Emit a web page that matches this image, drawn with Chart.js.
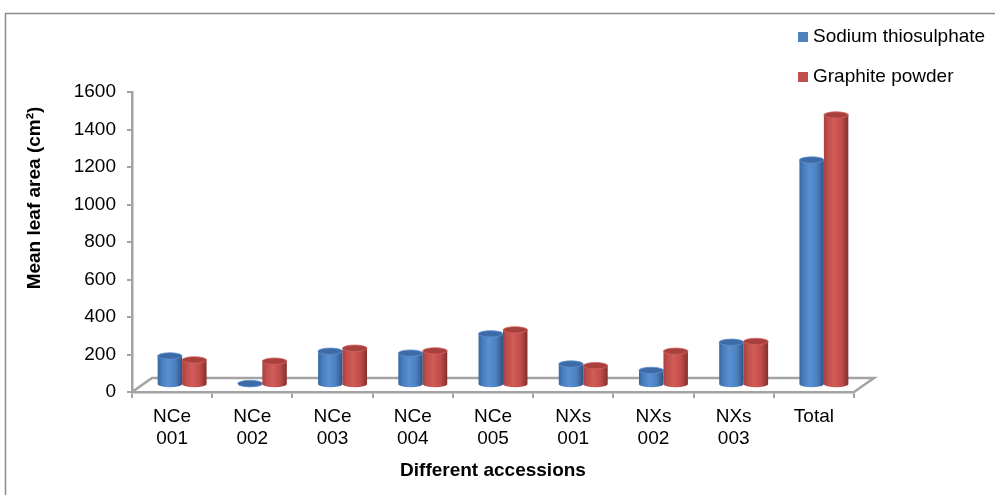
<!DOCTYPE html>
<html>
<head>
<meta charset="utf-8">
<script src="https://cdn.jsdelivr.net/npm/chart.js@4.4.0/dist/chart.umd.min.js"></script>
<style>
  body { margin: 0; background: #fff; }
  #wrap { width: 995px; height: 495px; }
</style>
</head>
<body>
<div id="wrap"><canvas id="leaf-chart" width="995" height="495"></canvas></div>
<script>
const categories = [["NCe", "001"], ["NCe", "002"], ["NCe", "003"], ["NCe", "004"], ["NCe", "005"],
  ["NXs", "001"], ["NXs", "002"], ["NXs", "003"], "Total"];
const sodium = [155, 8, 180, 170, 273, 112, 78, 228, 1200];
const graphite = [134, 127, 196, 182, 294, 103, 180, 232, 1440];
const yTicks = [0, 200, 400, 600, 800, 1000, 1200, 1400, 1600];

const FONT = "'Liberation Sans', Arial, sans-serif";
const DEPTH_X = 20, DEPTH_Y = -14; // 3d floor offset

// body gradient stops for the cylinders
const shades = [
  { stops: ["#3a679f", "#4a7dbd", "#5990d1", "#4d80c0", "#2c5485"], top: "#3d6ba7", rim: "#5d8fcd" },
  { stops: ["#a7423f", "#c24f4c", "#d15c59", "#bf4d4a", "#862e2c"], top: "#a8403d", rim: "#d06360" }
];

const floor3d = {
  id: "floor3d",
  beforeDraw(chart) {
    const ctx = chart.ctx;
    ctx.save();
    ctx.strokeStyle = "#8c8c8c";
    ctx.lineWidth = 1.5;
    ctx.strokeRect(5.5, 13.5, 1100, 600);
    ctx.restore();
  },
  beforeDatasetsDraw(chart) {
    const { ctx, chartArea: a } = chart;
    ctx.save();
    ctx.strokeStyle = "#a3a3a3";
    ctx.lineWidth = 2.5;
    ctx.beginPath();
    ctx.moveTo(a.left, a.bottom);
    ctx.lineTo(a.left + DEPTH_X, a.bottom + DEPTH_Y);
    ctx.lineTo(a.right + DEPTH_X, a.bottom + DEPTH_Y);
    ctx.lineTo(a.right, a.bottom);
    ctx.stroke();
    ctx.restore();
  },
  beforeDatasetDraw() {
    return false; // cylinders are drawn below instead
  },
  afterDatasetsDraw(chart) {
    const ctx = chart.ctx;
    const sx = DEPTH_X / 2, sy = DEPTH_Y / 2;
    const n = chart.data.labels.length;
    for (let i = 0; i < n; i++) {
      chart.data.datasets.forEach((ds, d) => {
        const bar = chart.getDatasetMeta(d).data[i];
        const { x, y, base, width } = bar.getProps(["x", "y", "base", "width"], true);
        const cx = x + sx, top = y + sy, bot = base + sy;
        const rx = width / 2, ry = width * 0.13;
        const sh = shades[d];
        const g = ctx.createLinearGradient(cx - rx, 0, cx + rx, 0);
        [0, 0.18, 0.42, 0.72, 1].forEach((p, k) => g.addColorStop(p, sh.stops[k]));
        ctx.save();
        ctx.fillStyle = g;
        ctx.beginPath();
        ctx.moveTo(cx - rx, top);
        ctx.lineTo(cx - rx, bot);
        ctx.ellipse(cx, bot, rx, ry, 0, Math.PI, 0, true);
        ctx.lineTo(cx + rx, top);
        ctx.closePath();
        ctx.fill();
        ctx.beginPath();
        ctx.ellipse(cx, top, rx, ry, 0, 0, Math.PI * 2);
        ctx.fillStyle = sh.top;
        ctx.fill();
        ctx.strokeStyle = sh.rim;
        ctx.lineWidth = 0.8;
        ctx.stroke();
        ctx.restore();
      });
    }
  },
  afterDraw(chart) {
    const ctx = chart.ctx;
    ctx.save();
    // legend
    ctx.font = "19px " + FONT;
    ctx.textBaseline = "middle";
    ctx.textAlign = "left";
    chart.data.datasets.forEach((ds, d) => {
      const yy = 37 + d * 40;
      ctx.fillStyle = ds.backgroundColor;
      ctx.fillRect(798, yy - 5, 10, 10);
      ctx.fillStyle = "#000";
      ctx.fillText(ds.label, 813, yy);
    });
    // y axis title
    ctx.translate(35, 198);
    ctx.rotate(-Math.PI / 2);
    ctx.font = "bold 19px " + FONT;
    ctx.textAlign = "center";
    ctx.fillText("Mean leaf area (cm\u00B2)", 0, 0);
    ctx.restore();
  }
};

new Chart(document.getElementById("leaf-chart"), {
  type: "bar",
  data: {
    labels: categories,
    datasets: [
      { label: "Sodium thiosulphate", data: sodium, backgroundColor: "#4f81bd" },
      { label: "Graphite powder", data: graphite, backgroundColor: "#c0504d" }
    ]
  },
  options: {
    responsive: false,
    animation: false,
    events: [],
    categoryPercentage: 0.61,
    barPercentage: 1.0,
    layout: { padding: { top: 92, right: 141, bottom: 0, left: 0 } },
    plugins: { legend: { display: false }, tooltip: { enabled: false } },
    scales: {
      x: {
        afterFit(scale) { scale.height = 103; },
        grid: { display: true, drawOnChartArea: false, drawTicks: true, tickLength: 6, color: "#a3a3a3", lineWidth: 2, offset: true },
        border: { display: true, color: "#a3a3a3", width: 2.5 },
        ticks: { color: "#000", font: { family: FONT, size: 19 }, padding: 7, maxRotation: 0, autoSkip: false },
        title: { display: true, text: "Different accessions", color: "#000",
          font: { family: FONT, size: 19, weight: "bold" }, padding: { top: 4, bottom: 13 } }
      },
      y: {
        min: 0,
        max: 1600,
        afterFit(scale) { scale.width = 132; },
        afterBuildTicks(scale) { scale.ticks = yTicks.map(v => ({ value: v })); },
        grid: { display: true, drawOnChartArea: false, drawTicks: true, tickLength: 5, color: "#a3a3a3", lineWidth: 2 },
        border: { display: true, color: "#a3a3a3", width: 2.5 },
        ticks: { color: "#000", font: { family: FONT, size: 19 }, padding: 11, callback: v => String(v) }
      }
    }
  },
  plugins: [floor3d]
});
</script>
</body>
</html>
